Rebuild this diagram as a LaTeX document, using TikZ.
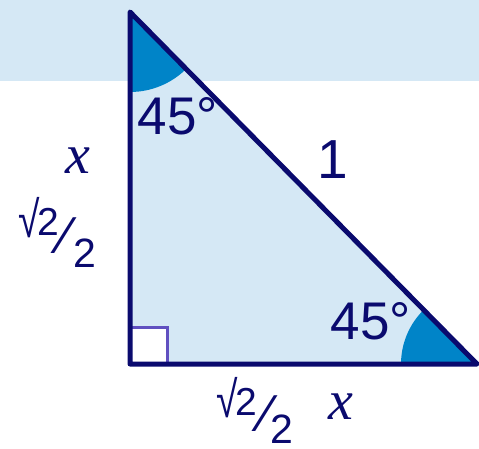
\documentclass[tikz,border=0pt]{standalone}
\usepackage{fontspec}
\usepackage{graphicx}
\setmainfont{Liberation Sans}
\newfontfamily\serifit{Liberation Serif}
\definecolor{band}{HTML}{D5E8F5}
\definecolor{navy}{HTML}{0A0A6E}
\definecolor{wedge}{HTML}{0084C8}
\definecolor{sqline}{HTML}{6050C0}
\begin{document}
\begin{tikzpicture}[x=1pt,y=-1pt,
  lbl/.style={inner sep=0pt,text=navy},
  deg/.style={lbl,font=\fontsize{53}{53}\selectfont},
  var/.style={lbl,font=\serifit\itshape\fontsize{56}{56}\selectfont},
  rad/.style={lbl,anchor=south west,font=\fontsize{39}{39}\selectfont},
  sup/.style={lbl,anchor=base west,font=\fontsize{39}{39}\selectfont},
  sub/.style={lbl,anchor=base west,font=\fontsize{41}{41}\selectfont},
  slash/.style={lbl,font=\fontsize{52}{52}\selectfont}]
\useasboundingbox (0,0) rectangle (479,449);
\fill[band] (0,0) rectangle (479,81);
\coordinate (A) at (130,12);
\coordinate (B) at (130,364);
\coordinate (C) at (477,364);
\fill[band] (A) -- (B) -- (C) -- cycle;
\fill[wedge] (A) -- ++(0,80) arc[start angle=90,end angle=45.3,radius=80] -- cycle;
\fill[wedge] (C) -- ++(-76,0) arc[start angle=180,end angle=225.4,radius=76] -- cycle;
\draw[sqline,fill=white,line width=3pt] (B) rectangle (167,327);
\draw[navy,line width=5pt,line join=round] (A) -- (B) -- (C) -- cycle;
\node[deg] (t1) at (178,116) {45°};
\node[deg] (t2) at (371,321) {45°};
\node[lbl,font=\fontsize{55}{55}\selectfont] (one) at (333,160) {1};
\node[var] (x1) at (78,161) {x};
\node[var] (x2) at (341,407) {x};
\node[rad] (r1) at (18,238) {\scalebox{1}[1.3]{√}};
\node[sup] (s1) at (37,235) {2};
\node[slash] (sl1) at (66,236) {⁄};
\node[sub] (d1) at (73,267) {2};
\node[rad] (r2) at (216,418) {\scalebox{1}[1.3]{√}};
\node[sup] (s2) at (235,415) {2};
\node[slash] (sl2) at (267,414) {⁄};
\node[sub] (d2) at (270,443) {2};
\end{tikzpicture}
\end{document}
